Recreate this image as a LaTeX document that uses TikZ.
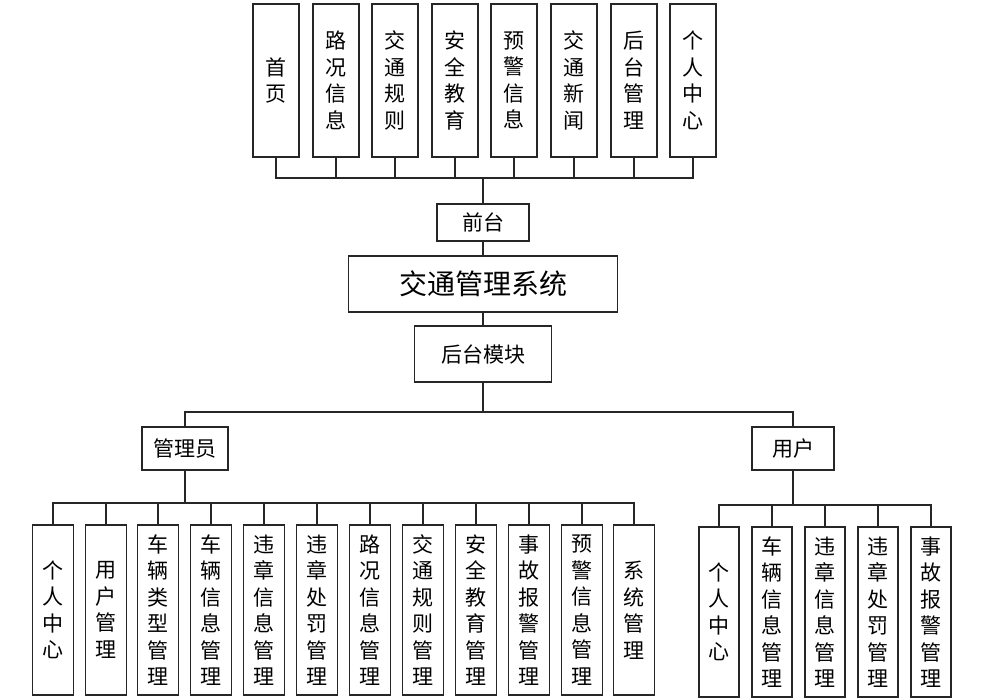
\documentclass[tikz,border=0pt]{standalone}
\usepackage{fontspec}
\setmainfont{Noto Sans CJK SC}
\begin{document}
\begin{tikzpicture}[x=1pt,y=-1pt,
  box/.style={draw=black!85,line width=1.6pt,inner sep=0pt,align=center,font=\fontsize{21}{26.5}\selectfont},
  conn/.style={draw=black!85,line width=2pt}]
\useasboundingbox (0,0) rectangle (982,700);
% top row
\foreach \x/\t in {276/{首\\页},336/{路\\况\\信\\息},395/{交\\通\\规\\则},455/{安\\全\\教\\育},514/{预\\警\\信\\息},574/{交\\通\\新\\闻},634/{后\\台\\管\\理},693/{个\\人\\中\\心}}{
  \node[box,minimum width=46pt,minimum height=153pt] (t\x) at (\x,80.5) {\t};
}
\node[box,minimum width=92pt,minimum height=37pt] (qt) at (483,222.5) {前台};
\node[box,minimum width=269pt,minimum height=56pt,font=\fontsize{28}{33}\selectfont] (sys) at (483,284) {交通管理系统};
\node[box,minimum width=137pt,minimum height=56pt] (ht) at (483,354) {后台模块};
\node[box,minimum width=86pt,minimum height=43pt] (gly) at (185,448.5) {管理员};
\node[box,minimum width=82pt,minimum height=43pt] (yh) at (793,448.5) {用户};
% admin children
\foreach \i/\x/\t in {0/53/{个\\人\\中\\心},1/106/{用\\户\\管\\理},2/158/{车\\辆\\类\\型\\管\\理},3/211/{车\\辆\\信\\息\\管\\理},4/264/{违\\章\\信\\息\\管\\理},5/317/{违\\章\\处\\罚\\管\\理},6/370/{路\\况\\信\\息\\管\\理},7/423/{交\\通\\规\\则\\管\\理},8/476/{安\\全\\教\\育\\管\\理},9/529/{事\\故\\报\\警\\管\\理},10/582/{预\\警\\信\\息\\管\\理},11/634/{系\\统\\管\\理}}{
  \node[box,minimum width=41pt,minimum height=170pt] (a\i) at (\x,610) {\t};
}
% user children
\foreach \i/\x/\t in {0/719/{个\\人\\中\\心},1/772/{车\\辆\\信\\息\\管\\理},2/825/{违\\章\\信\\息\\管\\理},3/878/{违\\章\\处\\罚\\管\\理},4/931/{事\\故\\报\\警\\管\\理}}{
  \node[box,minimum width=40pt,minimum height=170pt] (u\i) at (\x,612) {\t};
}
\coordinate (fbus) at (483,178);
\coordinate (bbus) at (483,412);
\coordinate (abus) at (185,503);
\coordinate (ubus) at (793,505);
\foreach \x in {276,336,395,455,514,574,634,693}{ \draw[conn] (t\x.south) |- (fbus); }
\draw[conn] (fbus) -- (qt.north);
\draw[conn] (qt.south) -- (sys.north);
\draw[conn] (sys.south) -- (ht.north);
\draw[conn] (ht.south) -- (bbus);
\draw[conn] (gly.north) |- (bbus);
\draw[conn] (yh.north) |- (bbus);
\draw[conn] (gly.south) -- (abus);
\draw[conn] (yh.south) -- (ubus);
\foreach \i in {0,...,11}{ \draw[conn] (a\i.north) |- (abus); }
\foreach \i in {0,...,4}{ \draw[conn] (u\i.north) |- (ubus); }
\end{tikzpicture}
\end{document}
